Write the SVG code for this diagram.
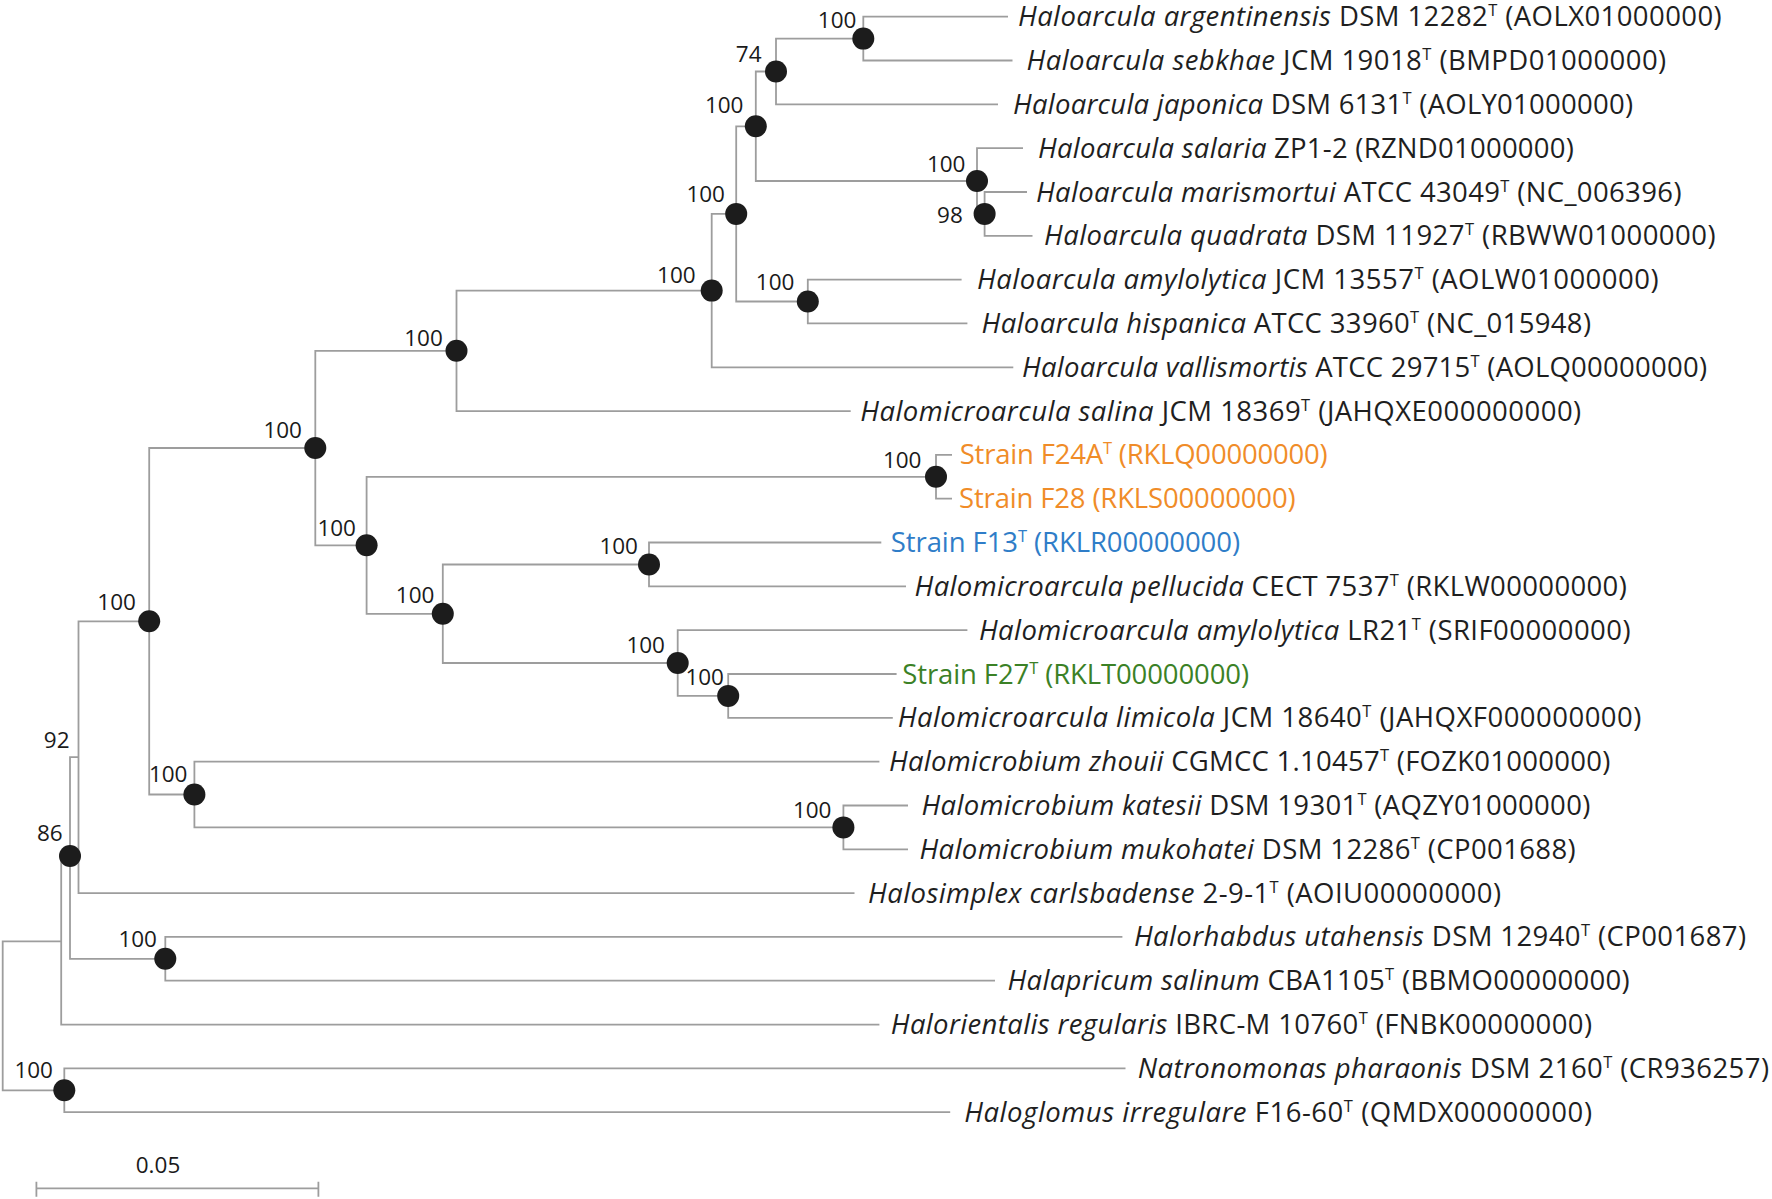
<svg xmlns="http://www.w3.org/2000/svg" width="1772" height="1199" viewBox="0 0 1772 1199">
<style>
.br{fill:none;stroke:#9d9d9d;stroke-width:1.8}
.nd{fill:#1c1c1c}
.bs{font-family:"Open Sans","Liberation Sans",sans-serif;font-size:22.5px;fill:#1a1a1a;text-anchor:end}
.tip{font-family:"Open Sans","Liberation Sans",sans-serif;font-size:27.5px;fill:#1f1f1f}
.sp{font-style:italic}
.sup{font-size:16.5px}
.or{fill:#f08c28}
.bl{fill:#2f7dc8}
.gr{fill:#3b8126}
</style>
<rect width="1772" height="1199" fill="#fff"/>
<g id="connectors">
<path class="br" d="M61.2 941.3H2.7V1090.3H64.3"/>
<path class="br" d="M70 858H61.2V1024.6H879.4"/>
<path class="br" d="M78.5 757.2H70V958.8H165.3"/>
<path class="br" d="M149.2 621.3H78.5V893.1H854.5"/>
<path class="br" d="M315.3 448H149.2V794.5H194.4"/>
<path class="br" d="M456.5 350.8H315.3V545.3H366.6"/>
<path class="br" d="M711.7 290.6H456.5V411.1H850.7"/>
<path class="br" d="M736.2 213.9H711.7V367.3H1013.3"/>
<path class="br" d="M755.8 126.3H736.2V301.5H807.8"/>
<path class="br" d="M776 71.5H755.8V181H977"/>
<path class="br" d="M863.3 38.6H776V104.3H998"/>
<path class="br" d="M1008 16.7H863.3V60.5H1012.5"/>
<path class="br" d="M1023 148.2H977V213.9H984.6"/>
<path class="br" d="M1027 192H984.6V235.8H1032.5"/>
<path class="br" d="M961.6 279.6H807.8V323.4H967.4"/>
<path class="br" d="M936 476.8H366.6V613.8H442.8"/>
<path class="br" d="M952 454.9H936V498.7H952"/>
<path class="br" d="M649 564.5H442.8V663H677.7"/>
<path class="br" d="M881.3 542.5H649V586.4H906"/>
<path class="br" d="M967.4 630.2H677.7V695.9H728.2"/>
<path class="br" d="M896.6 674H728.2V717.8H892.8"/>
<path class="br" d="M879.4 761.6H194.4V827.4H843.4"/>
<path class="br" d="M908 805.5H843.4V849.3H908"/>
<path class="br" d="M1122.4 936.9H165.3V980.7H995"/>
<path class="br" d="M1125.5 1068.4H64.3V1112.2H950.2"/>
</g>
<g id="internal-nodes">
<g id="n-arg"><circle class="nd" cx="863.3" cy="38.6" r="11"/><text class="bs" x="856.4" y="28.3">100</text></g>
<g id="n-74"><circle class="nd" cx="776" cy="71.5" r="11"/><text class="bs" x="761.5" y="61.7">74</text></g>
<g id="n-hal3"><circle class="nd" cx="755.8" cy="126.3" r="11"/><text class="bs" x="743.5" y="113.3">100</text></g>
<g id="n-sal"><circle class="nd" cx="977" cy="181" r="11"/><text class="bs" x="965.5" y="171.7">100</text></g>
<g id="n-98"><circle class="nd" cx="984.6" cy="213.9" r="11"/><text class="bs" x="962.8" y="223.3">98</text></g>
<g id="n-hal4"><circle class="nd" cx="736.2" cy="213.9" r="11"/><text class="bs" x="725" y="201.7">100</text></g>
<g id="n-amy"><circle class="nd" cx="807.8" cy="301.5" r="11"/><text class="bs" x="794.4" y="290">100</text></g>
<g id="n-hal5"><circle class="nd" cx="711.7" cy="290.6" r="11"/><text class="bs" x="695.7" y="283.3">100</text></g>
<g id="n-hal6"><circle class="nd" cx="456.5" cy="350.8" r="11"/><text class="bs" x="442.8" y="345.7">100</text></g>
<g id="n-7"><circle class="nd" cx="315.3" cy="448" r="11"/><text class="bs" x="302" y="437.7">100</text></g>
<g id="n-f24"><circle class="nd" cx="936" cy="476.8" r="11"/><text class="bs" x="921.5" y="468.3">100</text></g>
<g id="n-f24p"><circle class="nd" cx="366.6" cy="545.3" r="11"/><text class="bs" x="356" y="536">100</text></g>
<g id="n-mid"><circle class="nd" cx="442.8" cy="613.8" r="11"/><text class="bs" x="434.4" y="603.3">100</text></g>
<g id="n-f13"><circle class="nd" cx="649" cy="564.5" r="11"/><text class="bs" x="638" y="554.3">100</text></g>
<g id="n-amylr"><circle class="nd" cx="677.7" cy="663" r="11"/><text class="bs" x="665" y="653.3">100</text></g>
<g id="n-f27"><circle class="nd" cx="728.2" cy="695.9" r="11"/><text class="bs" x="724" y="685">100</text></g>
<g id="n-8"><circle class="nd" cx="149.2" cy="621.3" r="11"/><text class="bs" x="135.9" y="610">100</text></g>
<g id="n-92"><text class="bs" x="69.5" y="747.5">92</text></g>
<g id="n-zh"><circle class="nd" cx="194.4" cy="794.5" r="11"/><text class="bs" x="187.5" y="781.7">100</text></g>
<g id="n-kat"><circle class="nd" cx="843.4" cy="827.4" r="11"/><text class="bs" x="831.5" y="818.3">100</text></g>
<g id="n-86"><circle class="nd" cx="70" cy="856" r="11"/><text class="bs" x="62.7" y="840.7">86</text></g>
<g id="n-rhab"><circle class="nd" cx="165.3" cy="958.8" r="11"/><text class="bs" x="157" y="946.7">100</text></g>
<g id="n-nat"><circle class="nd" cx="64.3" cy="1090.3" r="11"/><text class="bs" x="53" y="1078.3">100</text></g>
</g>
<g id="tips">
<g id="t1"><text class="tip" x="1018" y="26.2" textLength="703.7"><tspan class="sp">Haloarcula argentinensis</tspan> DSM 12282<tspan class="sup" dy="-10">T</tspan><tspan dy="10"> (AOLX01000000)</tspan></text></g>
<g id="t2"><text class="tip" x="1026.5" y="70" textLength="639.7"><tspan class="sp">Haloarcula sebkhae</tspan> JCM 19018<tspan class="sup" dy="-10">T</tspan><tspan dy="10"> (BMPD01000000)</tspan></text></g>
<g id="t3"><text class="tip" x="1013" y="113.8" textLength="620"><tspan class="sp">Haloarcula japonica</tspan> DSM 6131<tspan class="sup" dy="-10">T</tspan><tspan dy="10"> (AOLY01000000)</tspan></text></g>
<g id="t4"><text class="tip" x="1038" y="157.7" textLength="535.9"><tspan class="sp">Haloarcula salaria</tspan> ZP1-2 (RZND01000000)</text></g>
<g id="t5"><text class="tip" x="1036" y="201.5" textLength="645.5"><tspan class="sp">Haloarcula marismortui</tspan> ATCC 43049<tspan class="sup" dy="-10">T</tspan><tspan dy="10"> (NC_006396)</tspan></text></g>
<g id="t6"><text class="tip" x="1044" y="245.3" textLength="671.5"><tspan class="sp">Haloarcula quadrata</tspan> DSM 11927<tspan class="sup" dy="-10">T</tspan><tspan dy="10"> (RBWW01000000)</tspan></text></g>
<g id="t7"><text class="tip" x="977" y="289.1" textLength="681.6"><tspan class="sp">Haloarcula amylolytica</tspan> JCM 13557<tspan class="sup" dy="-10">T</tspan><tspan dy="10"> (AOLW01000000)</tspan></text></g>
<g id="t8"><text class="tip" x="981.6" y="332.9" textLength="609.4"><tspan class="sp">Haloarcula hispanica</tspan> ATCC 33960<tspan class="sup" dy="-10">T</tspan><tspan dy="10"> (NC_015948)</tspan></text></g>
<g id="t9"><text class="tip" x="1022" y="376.8" textLength="685"><tspan class="sp">Haloarcula vallismortis</tspan> ATCC 29715<tspan class="sup" dy="-10">T</tspan><tspan dy="10"> (AOLQ00000000)</tspan></text></g>
<g id="t10"><text class="tip" x="860.2" y="420.6" textLength="721"><tspan class="sp">Halomicroarcula salina</tspan> JCM 18369<tspan class="sup" dy="-10">T</tspan><tspan dy="10"> (JAHQXE000000000)</tspan></text></g>
<g id="t11"><text class="tip or" x="959.7" y="464.4" textLength="368">Strain F24A<tspan class="sup" dy="-10">T</tspan><tspan dy="10"> (RKLQ00000000)</tspan></text></g>
<g id="t12"><text class="tip or" x="959" y="508.2" textLength="336.6">Strain F28 (RKLS00000000)</text></g>
<g id="t13"><text class="tip bl" x="890.8" y="552" textLength="349.2">Strain F13<tspan class="sup" dy="-10">T</tspan><tspan dy="10"> (RKLR00000000)</tspan></text></g>
<g id="t14"><text class="tip" x="914.6" y="595.9" textLength="712.2"><tspan class="sp">Halomicroarcula pellucida</tspan> CECT 7537<tspan class="sup" dy="-10">T</tspan><tspan dy="10"> (RKLW00000000)</tspan></text></g>
<g id="t15"><text class="tip" x="978.9" y="639.7" textLength="651.6"><tspan class="sp">Halomicroarcula amylolytica</tspan> LR21<tspan class="sup" dy="-10">T</tspan><tspan dy="10"> (SRIF00000000)</tspan></text></g>
<g id="t16"><text class="tip gr" x="902.3" y="683.5" textLength="346.7">Strain F27<tspan class="sup" dy="-10">T</tspan><tspan dy="10"> (RKLT00000000)</tspan></text></g>
<g id="t17"><text class="tip" x="897.7" y="727.3" textLength="743.7"><tspan class="sp">Halomicroarcula limicola</tspan> JCM 18640<tspan class="sup" dy="-10">T</tspan><tspan dy="10"> (JAHQXF000000000)</tspan></text></g>
<g id="t18"><text class="tip" x="889" y="771.1" textLength="721.4"><tspan class="sp">Halomicrobium zhouii</tspan> CGMCC 1.10457<tspan class="sup" dy="-10">T</tspan><tspan dy="10"> (FOZK01000000)</tspan></text></g>
<g id="t19"><text class="tip" x="921.5" y="815" textLength="668.8"><tspan class="sp">Halomicrobium katesii</tspan> DSM 19301<tspan class="sup" dy="-10">T</tspan><tspan dy="10"> (AQZY01000000)</tspan></text></g>
<g id="t20"><text class="tip" x="919.5" y="858.8" textLength="656.2"><tspan class="sp">Halomicrobium mukohatei</tspan> DSM 12286<tspan class="sup" dy="-10">T</tspan><tspan dy="10"> (CP001688)</tspan></text></g>
<g id="t21"><text class="tip" x="868" y="902.6" textLength="633"><tspan class="sp">Halosimplex carlsbadense</tspan> 2-9-1<tspan class="sup" dy="-10">T</tspan><tspan dy="10"> (AOIU00000000)</tspan></text></g>
<g id="t22"><text class="tip" x="1133.9" y="946.4" textLength="612.1"><tspan class="sp">Halorhabdus utahensis</tspan> DSM 12940<tspan class="sup" dy="-10">T</tspan><tspan dy="10"> (CP001687)</tspan></text></g>
<g id="t23"><text class="tip" x="1007.6" y="990.2" textLength="622.1"><tspan class="sp">Halapricum salinum</tspan> CBA1105<tspan class="sup" dy="-10">T</tspan><tspan dy="10"> (BBMO00000000)</tspan></text></g>
<g id="t24"><text class="tip" x="890.8" y="1034.1" textLength="701.2"><tspan class="sp">Halorientalis regularis</tspan> IBRC-M 10760<tspan class="sup" dy="-10">T</tspan><tspan dy="10"> (FNBK00000000)</tspan></text></g>
<g id="t25"><text class="tip" x="1137.7" y="1077.9" textLength="631.3"><tspan class="sp">Natronomonas pharaonis</tspan> DSM 2160<tspan class="sup" dy="-10">T</tspan><tspan dy="10"> (CR936257)</tspan></text></g>
<g id="t26"><text class="tip" x="964.3" y="1121.7" textLength="627.7"><tspan class="sp">Haloglomus irregulare</tspan> F16-60<tspan class="sup" dy="-10">T</tspan><tspan dy="10"> (QMDX00000000)</tspan></text></g>
</g>
<g id="scale-bar">
<path class="br" d="M36.4 1188.3H318.4M36.4 1181.7V1196.7M318.4 1181.7V1196.7"/>
<text class="bs" x="158" y="1172.7" style="text-anchor:middle">0.05</text>
</g>
</svg>
